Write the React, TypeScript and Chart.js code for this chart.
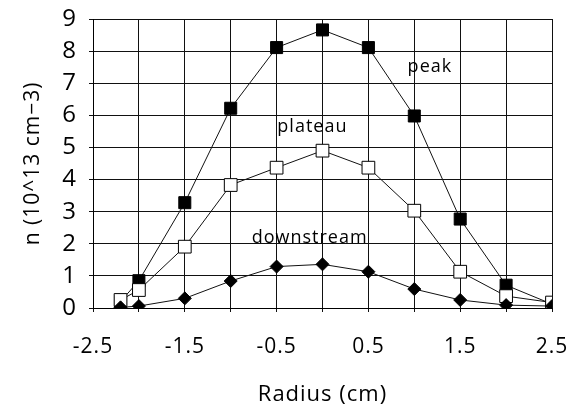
import React, { useEffect, useRef } from "react";
import { Chart, registerables } from "chart.js";

Chart.register(...registerables);

const radius = [-2.2, -2, -1.5, -1, -0.5, 0, 0.5, 1, 1.5, 2, 2.5];
const peak = [0.2, 0.85, 3.28, 6.22, 8.11, 8.66, 8.11, 5.98, 2.77, 0.71, 0.12];
const plateau = [0.25, 0.56, 1.91, 3.83, 4.37, 4.9, 4.37, 3.03, 1.13, 0.37, 0.17];
const downstream = [0.02, 0.06, 0.3, 0.84, 1.29, 1.36, 1.13, 0.59, 0.25, 0.09, 0.06];

const xTickLabels = ["-2.5", "-1.5", "-0.5", "0.5", "1.5", "2.5"];

const annotationText = ["peak", "plateau", "downstream"];
const annotationX = [1.17, -0.11, -0.14];
const annotationY = [7.5, 5.64, 2.18];

const FONT = "'Open Sans'";

const spacingPlugin = {
  id: "spacing",
  beforeLayout(chart: any) {
    chart.ctx.letterSpacing = "1px";
  },
  beforeDraw(chart: any) {
    chart.ctx.letterSpacing = "1px";
  },
};

const annotationPlugin = {
  id: "seriesLabels",
  afterDatasetsDraw(chart: any) {
    const { ctx, scales } = chart;
    ctx.save();
    ctx.letterSpacing = "1px";
    ctx.font = `18px ${FONT}`;
    ctx.fillStyle = "#000";
    ctx.textAlign = "center";
    ctx.textBaseline = "middle";
    annotationText.forEach((t, i) => {
      ctx.fillText(t, scales.x.getPixelForValue(annotationX[i]), scales.y.getPixelForValue(annotationY[i]));
    });
    ctx.restore();
  },
};

export default function App() {
  const ref = useRef<HTMLCanvasElement>(null);
  useEffect(() => {
    document.body.style.margin = "0";
    const mk = (arr: number[]) => radius.map((x, i) => ({ x, y: arr[i] }));
    const chart = new Chart(ref.current!, {
      type: "scatter",
      data: {
        datasets: [
          {
            label: "peak",
            data: mk(peak),
            order: 3,
            showLine: true,
            borderColor: "#111",
            borderWidth: 1,
            pointStyle: "rect",
            pointRadius: 8.5,
            pointBackgroundColor: "#000",
            pointBorderColor: "#000",
            pointBorderWidth: 1,
          },
          {
            label: "plateau",
            data: mk(plateau),
            order: 2,
            showLine: true,
            borderColor: "#111",
            borderWidth: 1,
            pointStyle: "rect",
            pointRadius: 9,
            pointBackgroundColor: "#fff",
            pointBorderColor: "#000",
            pointBorderWidth: 1,
          },
          {
            label: "downstream",
            data: mk(downstream),
            order: 1,
            showLine: true,
            borderColor: "#111",
            borderWidth: 1,
            pointStyle: "rectRot",
            pointRadius: 6.5,
            pointBackgroundColor: "#000",
            pointBorderColor: "#000",
            pointBorderWidth: 1,
          },
        ],
      },
      options: {
        animation: false,
        responsive: false,
        maintainAspectRatio: false,
        layout: { padding: { left: 0, right: 33, top: 19, bottom: 0 } },
        plugins: { legend: { display: false }, tooltip: { enabled: false } },
        scales: {
          x: {
            type: "linear",
            min: -2.5,
            max: 2.5,
            afterFit(s: any) {
              s.height = 101;
              s.paddingLeft = 0;
              s.paddingRight = 0;
            },
            ticks: {
              stepSize: 0.5,
              autoSkip: false,
              maxRotation: 0,
              padding: 22,
              color: "#000",
              font: { family: FONT, size: 21 },
              callback: (v: any) => {
                const s = Number(v).toFixed(1);
                return xTickLabels.includes(s) ? s : "";
              },
            },
            grid: { color: "#111", lineWidth: 1, tickLength: 4 },
            border: { color: "#000", width: 1 },
            title: {
              display: true,
              text: "Radius (cm)",
              color: "#000",
              font: { family: FONT, size: 22 },
              padding: { top: 0, bottom: 1 },
            },
          },
          y: {
            min: 0,
            max: 9,
            afterFit(s: any) {
              s.width = 93;
              s.paddingTop = 0;
              s.paddingBottom = 0;
            },
            ticks: {
              stepSize: 1,
              padding: 12,
              color: "#000",
              font: { family: FONT, size: 24 },
            },
            grid: { color: "#111", lineWidth: 1, tickLength: 4 },
            border: { color: "#000", width: 1 },
            title: {
              display: true,
              text: "n (10^13 cm\u22123)",
              color: "#000",
              font: { family: FONT, size: 21 },
              padding: { top: 20, bottom: 0 },
            },
          },
        },
      },
      plugins: [spacingPlugin, annotationPlugin],
    });
    return () => chart.destroy();
  }, []);
  return <canvas ref={ref} width={585} height={409} style={{ display: "block" }} />;
}
